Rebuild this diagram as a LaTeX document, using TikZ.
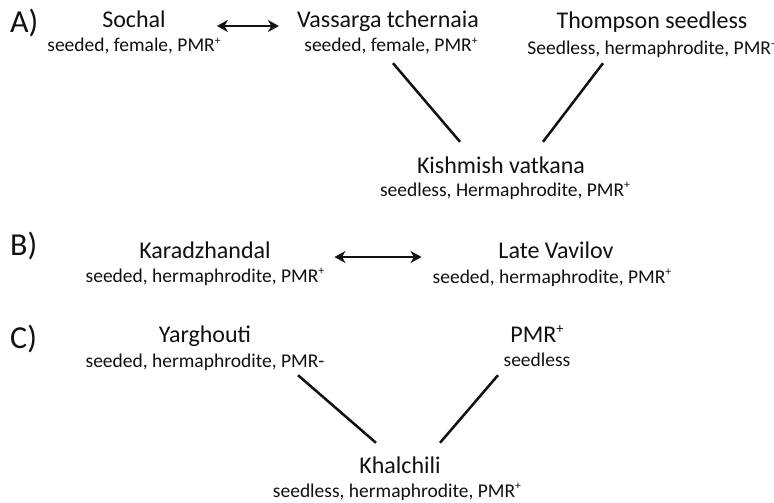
\documentclass[tikz,border=0pt]{standalone}
\usepackage{fontspec}
\setmainfont{Carlito}
\usetikzlibrary{arrows.meta,calc}
\definecolor{ink}{HTML}{111111}
\tikzset{
  title/.style={anchor=base,inner sep=0pt,font=\fontsize{24}{28}\selectfont,text=ink,text height=17pt,text depth=5pt},
  sub/.style={anchor=base,inner sep=0pt,font=\fontsize{19.5}{23}\selectfont,text=ink,text height=14pt,text depth=4pt},
  panel/.style={anchor=base west,inner sep=0pt,font=\fontsize{32}{36}\selectfont,text=ink},
  lnk/.style={draw=ink,line width=2.5pt},
  arr/.style={draw=ink,line width=2.6pt,{Stealth[length=11pt,width=12pt,inset=3.5pt]}-{Stealth[length=11pt,width=12pt,inset=3.5pt]}}
}
\newcommand{\pp}{\raisebox{0.36em}{\scalebox{0.6}{+}}}
\newcommand{\pmn}{\raisebox{0.36em}{\scalebox{0.6}{-}}}
\begin{document}
\begin{tikzpicture}[x=1pt,y=-1pt]
\useasboundingbox[fill=white] (0,0) rectangle (774,503);
% panel A
\node[panel] (la) at (10,33) {A)};
\node[title] (sochT) at (134,28) {Sochal};
\node[sub] (sochS) at (134,52) {seeded, female, PMR\pp};
\node[title] (vassT) at (388,28) {Vassarga tchernaia};
\node[sub] (vassS) at (391,52) {seeded, female, PMR\pp};
\node[title] (thomT) at (652,29) {Thompson seedless};
\node[sub] (thomS) at (651,55) {Seedless, hermaphrodite, PMR\pmn};
\node[title] (kishT) at (501,173) {Kishmish vatkana};
\node[sub] (kishS) at (505,196) {seedless, Hermaphrodite, PMR\pp};
\draw[arr] ($(sochT.east)+(51,4)$) -- ($(vassT.west)+(-18,4)$);
\draw[lnk] ($(vassS.south)+(2,7)$) -- ($(kishT.north)+(-41,-14)$);
\draw[lnk] ($(thomS.south)+(-48,4)$) -- ($(kishT.north)+(42,-14)$);
% panel B
\node[panel] (lb) at (10,255) {B)};
\node[title] (karT) at (205,258) {Karadzhandal};
\node[sub] (karS) at (205,282) {seeded, hermaphrodite, PMR\pp};
\node[title] (lateT) at (556,258) {Late Vavilov};
\node[sub] (lateS) at (552,283) {seeded, hermaphrodite, PMR\pp};
\draw[arr] ($(karS.east)+(10,-20)$) -- ($(lateS.west)+(-11,-21)$);
% panel C
\node[panel] (lc) at (10,348) {C)};
\node[title] (yarT) at (205,342) {Yarghouti};
\node[sub] (yarS) at (205,367) {seeded, hermaphrodite, PMR-};
\node[title] (pmrT) at (537,342) {PMR\pp};
\node[sub] (pmrS) at (537,366) {seedless};
\node[title] (khaT) at (400,473) {Khalchili};
\node[sub] (khaS) at (397,497) {seedless, hermaphrodite, PMR\pp};
\draw[lnk] ($(yarS.south)+(93,4)$) -- ($(khaT.north)+(-24,-13)$);
\draw[lnk] ($(pmrS.south)+(-39,5)$) -- ($(khaT.north)+(40,-13)$);
\end{tikzpicture}
\end{document}
